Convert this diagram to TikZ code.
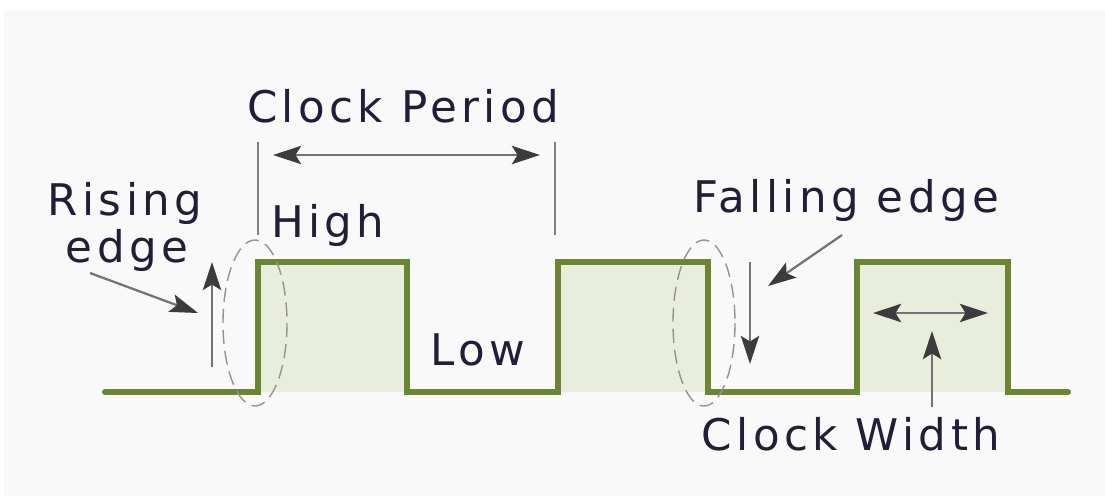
\documentclass[tikz,border=0pt]{standalone}
\usepackage{xcolor}
\usepackage{fontspec}
\setmainfont{DejaVu Sans}
\usetikzlibrary{arrows.meta}

\definecolor{wavegreen}{HTML}{6A8633}
\definecolor{wavefill}{HTML}{E8EEDB}
\definecolor{txtcol}{HTML}{221E38}
\definecolor{headcol}{HTML}{3C3C3C}
\definecolor{bgcol}{HTML}{F9F9FA}

\begin{document}
\begin{tikzpicture}[
    x=0.025cm, y=-0.025cm,
    wave/.style={draw=wavegreen, line width=4.3pt, line cap=round, line join=miter},
    pulse/.style={fill=wavefill, draw=none},
    lbl/.style={font=\fontsize{31}{36}\selectfont\addfontfeature{LetterSpace=10},
                text=txtcol, inner sep=0pt, anchor=base},
    arr/.style={-{Stealth[length=20pt, width=13pt, inset=4pt, color=headcol]},
                draw=gray!90!black, line width=1.6pt},
    darr/.style={{Stealth[length=20pt, width=13pt, inset=4pt, color=headcol]}-{Stealth[length=20pt, width=13pt, inset=4pt, color=headcol]},
                 draw=gray!90!black, line width=1.6pt},
    tick/.style={draw=gray, line width=1.6pt},
    edgering/.style={draw=gray!85, line width=1pt, dash pattern=on 10pt off 5pt},
]

%% ── Canvas ───────────────────────────────────────────────────────────────
\useasboundingbox (0,0) rectangle (1105,496);
\fill[white] (0,0) rectangle (1105,496);
\fill[bgcol] (4,10) rectangle (1105,496);

%% ── Waveform points ──────────────────────────────────────────────────────
%  low level y=392, high level y=262
\coordinate (w0) at (105, 392);
\coordinate (r1) at (258, 392);
\coordinate (h1) at (258, 262);
\coordinate (f1) at (407, 262);
\coordinate (l1) at (407, 392);
\coordinate (r2) at (558, 392);
\coordinate (h2) at (558, 262);
\coordinate (f2) at (708, 262);
\coordinate (l2) at (708, 392);
\coordinate (r3) at (857, 392);
\coordinate (h3) at (857, 262);
\coordinate (f3) at (1008, 262);
\coordinate (l3) at (1008, 392);
\coordinate (w1) at (1068, 392);

\fill[pulse] (r1) rectangle (f1);
\fill[pulse] (r2) rectangle (f2);
\fill[pulse] (r3) rectangle (f3);

\draw[wave] (w0) -- (r1) -- (h1) -- (f1) -- (l1) -- (r2) -- (h2) -- (f2)
            -- (l2) -- (r3) -- (h3) -- (f3) -- (l3) -- (w1);

%% ── Edge rings ───────────────────────────────────────────────────────────
\draw[edgering] (255, 323) ellipse [x radius=32, y radius=83];
\draw[edgering] (704, 323) ellipse [x radius=31, y radius=83];

%% ── Labels ───────────────────────────────────────────────────────────────
\node[lbl] (rising)  at (125, 215) {Rising};
\node[lbl] (redge)   at (127, 262) {edge};
\node[lbl] (period)  at (403, 122) {Clock Period};
\node[lbl] (high)    at (328, 237) {High};
\node[lbl] (low)     at (478, 365) {Low};
\node[lbl] (falling) at (846, 212) {Falling edge};
\node[lbl] (width)   at (851, 450) {Clock Width};

%% ── Clock period marks ───────────────────────────────────────────────────
\coordinate (pa) at (258, 142);
\coordinate (pb) at (258, 235);
\coordinate (pc) at (555, 142);
\coordinate (pd) at (555, 235);
\draw[tick] (pa) -- (pb);
\draw[tick] (pc) -- (pd);
\coordinate (pl) at (273, 155);
\coordinate (pr) at (540, 155);
\draw[darr] (pl) -- (pr);

%% ── Rising edge arrows ───────────────────────────────────────────────────
\coordinate (rup0) at (212, 367);
\coordinate (rup1) at (212, 262);
\draw[arr] (rup0) -- (rup1);
\coordinate (rsrc) at (90, 273);
\coordinate (rtip) at (198, 313);
\draw[arr] (rsrc) -- (rtip);

%% ── Falling edge arrows ──────────────────────────────────────────────────
\coordinate (fdn0) at (750, 262);
\coordinate (fdn1) at (750, 364);
\draw[arr] (fdn0) -- (fdn1);
\coordinate (fsrc) at (842, 235);
\coordinate (ftip) at (768, 286);
\draw[arr] (fsrc) -- (ftip);

%% ── Clock width arrows ───────────────────────────────────────────────────
\coordinate (cwl) at (873, 313);
\coordinate (cwr) at (988, 313);
\draw[darr] (cwl) -- (cwr);
\coordinate (cwsrc) at (932, 407);
\coordinate (cwtip) at (932, 331);
\draw[arr] (cwsrc) -- (cwtip);

\end{tikzpicture}
\end{document}
